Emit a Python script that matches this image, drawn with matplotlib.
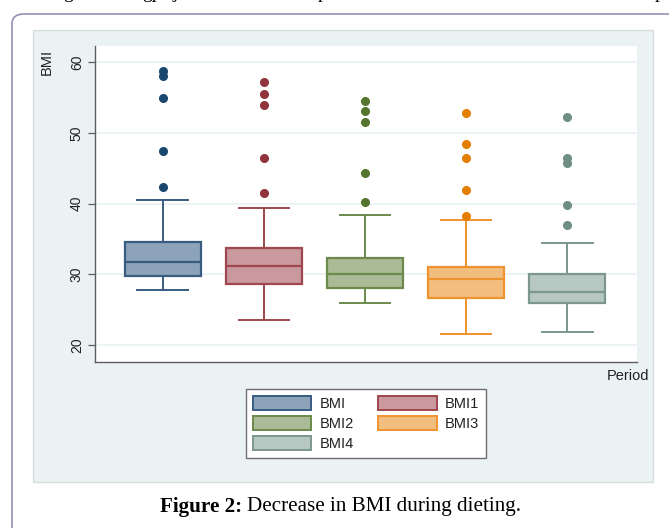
import matplotlib
matplotlib.use('Agg')
import matplotlib.pyplot as plt
from matplotlib.patches import Patch, Rectangle, FancyBboxPatch

# values
labels = ['BMI', 'BMI1', 'BMI2', 'BMI3', 'BMI4']
whislo = [27.8, 23.5, 25.9, 21.5, 21.8]
q1 = [29.8, 28.7, 28.1, 26.6, 26.0]
med = [31.8, 31.2, 30.1, 29.3, 27.5]
q3 = [34.6, 33.7, 32.3, 31.1, 30.0]
whishi = [40.5, 39.4, 38.4, 37.7, 34.4]
fliers = [
    [58.7, 58.1, 54.9, 47.4, 42.4],
    [57.2, 55.5, 53.9, 46.4, 41.5],
    [54.5, 53.1, 51.6, 44.3, 40.3],
    [52.8, 48.4, 46.4, 42.0, 38.3],
    [52.3, 46.5, 45.8, 39.8, 37.0],
]
yticks = [20, 30, 40, 50, 60]

edge_cols = ['#3a5c82', '#a0474e', '#6c8a4c', '#ef9330', '#7b978e']
fill_cols = ['#8ca3ba', '#c9999d', '#abbb97', '#f1be80', '#b7c7c2']
dot_cols = ['#1a476f', '#90353b', '#55752f', '#e37e00', '#6e8e84']

W, H = 669, 528
fig = plt.figure(figsize=(W / 100, H / 100), dpi=100)
fig.patch.set_facecolor('white')

# page frame and Stata graph region (behind the axes)
fig.patches.append(FancyBboxPatch((12 / W, -0.2), 1.0, 1 - 14 / H + 0.2,
                                  boxstyle='round,pad=0,rounding_size=0.018',
                                  transform=fig.transFigure, fill=False,
                                  edgecolor='#948fb6', linewidth=1.2, zorder=-2))
fig.patches.append(Rectangle((33 / W, 1 - 482 / H), (653 - 33) / W, (482 - 30) / H,
                             transform=fig.transFigure, facecolor='#eaf2f3',
                             edgecolor='#d9dddf', linewidth=1.0, zorder=-1))

ax = fig.add_axes([95 / W, 1 - 362 / H, 542 / W, 316 / H])
ax.set_facecolor('white')

stats = []
for i in range(len(labels)):
    stats.append({'label': labels[i], 'whislo': whislo[i], 'q1': q1[i], 'med': med[i],
                  'q3': q3[i], 'whishi': whishi[i], 'fliers': fliers[i]})
pos = list(range(1, len(labels) + 1))
bp = ax.bxp(stats, positions=pos, widths=0.75, patch_artist=True,
            capwidths=0.5, showfliers=True)
for i in range(len(labels)):
    bp['boxes'][i].set(facecolor=fill_cols[i], edgecolor=edge_cols[i], linewidth=1.6)
    bp['medians'][i].set(color=edge_cols[i], linewidth=1.6)
    for k in (2 * i, 2 * i + 1):
        bp['whiskers'][k].set(color=edge_cols[i], linewidth=1.4)
        bp['caps'][k].set(color=edge_cols[i], linewidth=1.4)
    bp['fliers'][i].set(marker='o', markerfacecolor=dot_cols[i],
                        markeredgecolor=dot_cols[i], markersize=5.5)

ax.set_xlim(0.33, 5.69)
ax.set_ylim(17.6, 62.3)
ax.set_yticks(yticks)
ax.set_xticks([])
ax.yaxis.grid(True, color='#eaf2f3', linewidth=1.3)
ax.set_axisbelow(True)
for s in ('top', 'right'):
    ax.spines[s].set_visible(False)
for s in ('left', 'bottom'):
    ax.spines[s].set_color('#5e5e5e')
    ax.spines[s].set_linewidth(1.0)
ax.tick_params(axis='y', length=5, width=0.9, color='#5e5e5e', labelsize=10,
               labelcolor='#222222', labelrotation=90, pad=3)
for t in ax.get_yticklabels():
    t.set_family('Liberation Sans')
    t.set_va('center')

fig.text(47 / W, 1 - 62 / H, 'BMI', rotation=90, ha='center', va='center',
         fontsize=10.5, family='Liberation Sans', color='#222222')
fig.text(649 / W, 1 - 376 / H, 'Period', ha='right', va='center',
         fontsize=10.5, family='Liberation Sans', color='#222222')

handles = [Patch(facecolor=fill_cols[i], edgecolor=edge_cols[i], linewidth=1.4, label=labels[i])
           for i in range(len(labels))]
order = [0, 2, 4, 1, 3]
leg = fig.legend([handles[i] for i in order], [labels[i] for i in order], ncol=2,
                 loc='center', bbox_to_anchor=(366 / W, 1 - 423.5 / H),
                 prop={'family': 'Liberation Sans', 'size': 10.5},
                 handlelength=4.0, handleheight=1.1, handletextpad=0.55,
                 columnspacing=1.7, labelspacing=0.35, borderpad=0.45,
                 fancybox=False, framealpha=1, edgecolor='#6e6e6e')
leg.get_frame().set_linewidth(1.0)
for t in leg.get_texts():
    t.set_color('#222222')

# caption
cap_y = 1 - 507 / H
t1 = fig.text(160 / W, cap_y, 'Figure 2:', ha='left', va='center', fontsize=15.2,
              family='Liberation Serif', weight='bold')
fig.canvas.draw()
bb = t1.get_window_extent()
fig.text((bb.x1 + 5) / W, cap_y, 'Decrease in BMI during dieting.', ha='left', va='center',
         fontsize=15.2, family='Liberation Serif')

# descenders of the cut-off line of text above the figure
top_bits = [(63, 'g'), (142, 'gp'), (172, 'j'), (318, 'p'), (655, 'p')]
for x, s in top_bits:
    fig.text(x / W, 1 + 2 / H, s, ha='left', va='baseline', fontsize=14,
             family='Liberation Serif')

fig.savefig('out.png', dpi=100)
